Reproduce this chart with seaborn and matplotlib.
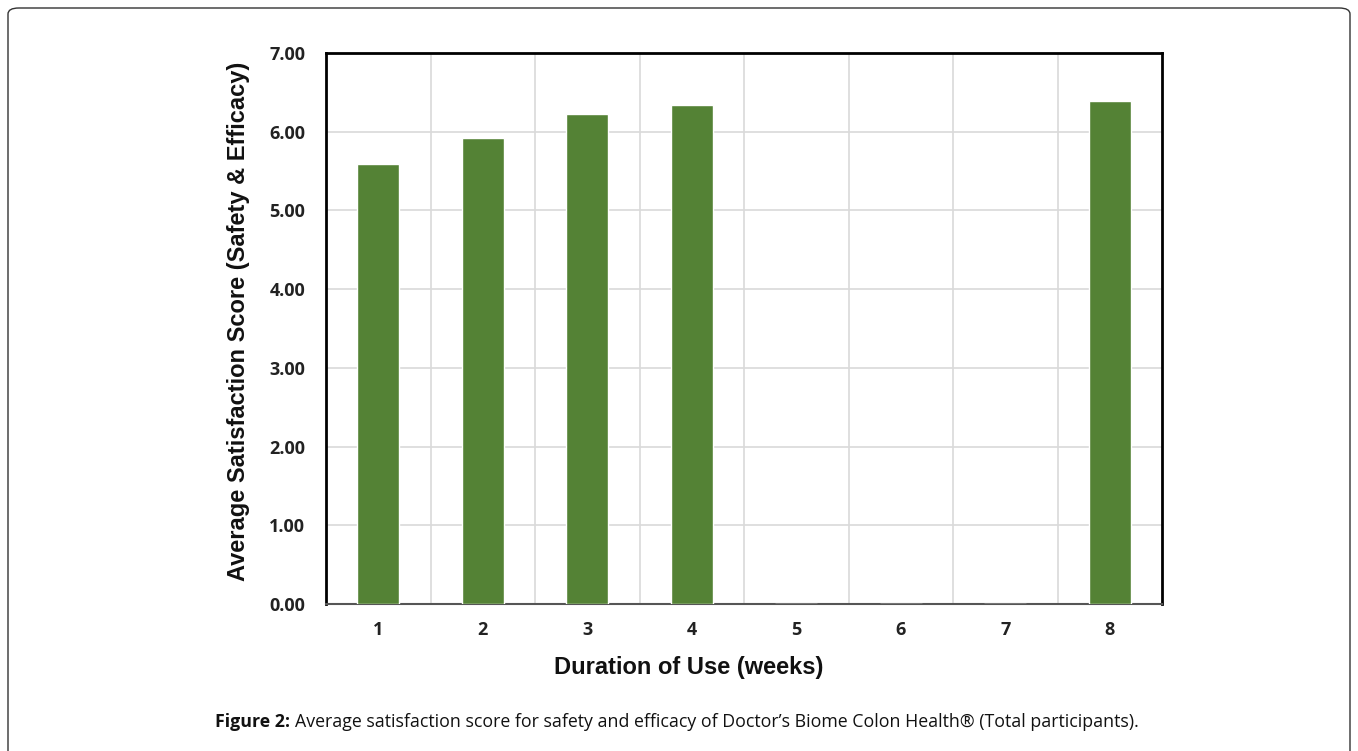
import matplotlib
matplotlib.use("Agg")
import matplotlib.pyplot as plt
import seaborn as sns
import pandas as pd
from matplotlib.patches import FancyBboxPatch

weeks = ["1", "2", "3", "4", "5", "6", "7", "8"]
scores = [5.59, 5.92, 6.22, 6.34, 0.0, 0.0, 0.0, 6.39]
y_ticks = [0, 1, 2, 3, 4, 5, 6, 7]
y_tick_labels = ["0.00", "1.00", "2.00", "3.00", "4.00", "5.00", "6.00", "7.00"]

df = pd.DataFrame({"week": weeks, "score": scores})

sns.set_theme(style="white")
plt.rcParams["font.family"] = ["Liberation Sans", "DejaVu Sans"]

fig = plt.figure(figsize=(13.58, 7.51), dpi=100)
ax = fig.add_axes([326/1358, 1 - 604/751, (1162-326)/1358, (604-53)/751])

sns.barplot(data=df, x="week", y="score", order=weeks, color="#548235",
            width=0.4, saturation=1, ax=ax, zorder=3)

ax.set_ylim(0, 7)
ax.set_xlim(-0.5, 7.5)
ax.set_yticks(y_ticks)
ax.set_yticklabels(y_tick_labels, fontfamily="Open Sans", fontweight="bold", fontsize=13, color="#222222")
ax.set_xticks(range(len(weeks)))
ax.set_xticklabels(weeks, fontfamily="Open Sans", fontweight="bold", fontsize=13, color="#222222")
ax.tick_params(axis="x", length=0, pad=12)
ax.tick_params(axis="y", length=0, pad=15)

# grid
ax.set_axisbelow(True)
ax.yaxis.grid(True, color="#d9d9d9", linewidth=1.2, zorder=0)
for b in [0.5 + i for i in range(7)]:
    ax.axvline(b, color="#d9d9d9", linewidth=1.2, zorder=0)

for side in ["left", "top", "right"]:
    ax.spines[side].set_color("black")
    ax.spines[side].set_linewidth(2)
ax.spines["bottom"].set_color("#555555")
ax.spines["bottom"].set_linewidth(1.5)

ax.set_xlabel("Duration of Use (weeks)", fontsize=17, fontweight="bold", color="#111111")
ax.xaxis.set_label_coords((689 - 326) / 836, -(656 - 604) / 551)
ax.set_ylabel("Average Satisfaction Score (Safety & Efficacy)", fontsize=17, fontweight="bold",
              color="#111111")
ax.yaxis.set_label_coords(-(326 - 250) / 836, (604 - 321) / 551)

# outer frame
frame = FancyBboxPatch((8/1358, -0.05), (1350-8)/1358, (751-8)/751 + 0.05,
                       boxstyle="round,pad=0,rounding_size=0.008",
                       transform=fig.transFigure, fill=False, edgecolor="#333333",
                       linewidth=1.0, zorder=0)
fig.patches.append(frame)

# caption
fig.text(290/1358, 1 - 722/751, "Figure 2:", ha="right", va="center", fontsize=12.8,
         fontfamily="Open Sans", fontweight="bold", color="#111111")
fig.text(295/1358, 1 - 722/751,
         "Average satisfaction score for safety and efficacy of Doctor\u2019s Biome Colon Health\u00ae (Total participants).",
         ha="left", va="center", fontsize=12.8, fontfamily="Open Sans", color="#111111")

fig.savefig("out.png", dpi=100)
